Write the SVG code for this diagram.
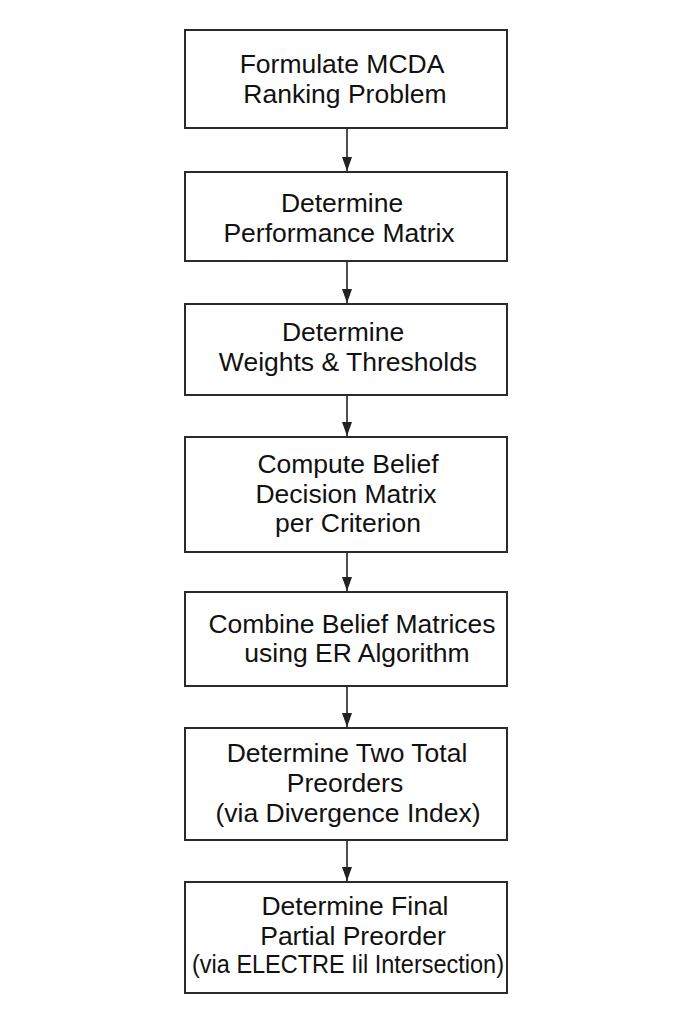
<svg xmlns="http://www.w3.org/2000/svg" width="685" height="1023" viewBox="0 0 685 1023">
<style>
.box{fill:#fff;stroke:#2a2a2a;stroke-width:2}
.lbl{font-family:"Liberation Sans",Arial,sans-serif;font-size:26.5px;fill:#111;text-anchor:middle}
.conn{stroke:#222;stroke-width:1.6;fill:none}
</style>
<defs>
<marker id="arr" markerUnits="userSpaceOnUse" viewBox="0 0 14 10" refX="14" refY="5" markerWidth="14" markerHeight="10" orient="auto">
<path d="M0,0 L14,5 L0,10 z" fill="#222"/>
</marker>
</defs>
<rect width="685" height="1023" fill="#fff"/>
<g id="connectors">
<line class="conn" x1="347" y1="129" x2="347" y2="171" marker-end="url(#arr)"/>
<line class="conn" x1="347" y1="262" x2="347" y2="303" marker-end="url(#arr)"/>
<line class="conn" x1="347" y1="396" x2="347" y2="436" marker-end="url(#arr)"/>
<line class="conn" x1="347" y1="553" x2="347" y2="591" marker-end="url(#arr)"/>
<line class="conn" x1="347" y1="687" x2="347" y2="727" marker-end="url(#arr)"/>
<line class="conn" x1="347" y1="841" x2="347" y2="881" marker-end="url(#arr)"/>
</g>
<g id="n1">
<rect class="box" x="185" y="30" width="322" height="98"/>
<text class="lbl" x="342" y="73">Formulate MCDA</text>
<text class="lbl" x="345" y="103">Ranking Problem</text>
</g>
<g id="n2">
<rect class="box" x="185" y="172" width="322" height="89"/>
<text class="lbl" x="342" y="212">Determine</text>
<text class="lbl" x="339" y="242">Performance Matrix</text>
</g>
<g id="n3">
<rect class="box" x="185" y="304" width="322" height="91"/>
<text class="lbl" x="343" y="341">Determine</text>
<text class="lbl" x="348" y="371">Weights &amp; Thresholds</text>
</g>
<g id="n4">
<rect class="box" x="185" y="437" width="322" height="115"/>
<text class="lbl" x="348" y="473">Compute Belief</text>
<text class="lbl" x="346" y="503">Decision Matrix</text>
<text class="lbl" x="348" y="532">per Criterion</text>
</g>
<g id="n5">
<rect class="box" x="185" y="592" width="322" height="94"/>
<text class="lbl" x="352" y="633">Combine Belief Matrices</text>
<text class="lbl" x="357" y="662">using ER Algorithm</text>
</g>
<g id="n6">
<rect class="box" x="185" y="728" width="322" height="112"/>
<text class="lbl" x="347" y="762">Determine Two Total</text>
<text class="lbl" x="345" y="792">Preorders</text>
<text class="lbl" x="348" y="822">(via Divergence Index)</text>
</g>
<g id="n7">
<rect class="box" x="185" y="882" width="322" height="111"/>
<text class="lbl" x="355" y="915">Determine Final</text>
<text class="lbl" x="353" y="945">Partial Preorder</text>
<text class="lbl" x="348" y="973" textLength="312" lengthAdjust="spacingAndGlyphs">(via ELECTRE Iil Intersection)</text>
</g>
</svg>
